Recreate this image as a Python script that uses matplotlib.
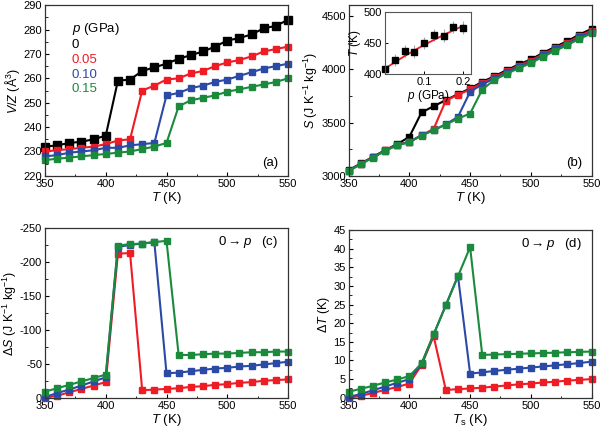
import numpy as np
import matplotlib.pyplot as plt
from matplotlib.ticker import AutoMinorLocator

plt.rcParams['font.family'] = ['Liberation Sans', 'DejaVu Sans']
plt.rcParams['mathtext.fontset'] = 'custom'
plt.rcParams['mathtext.rm'] = 'Liberation Sans'
plt.rcParams['mathtext.it'] = 'Liberation Sans:italic'
plt.rcParams['axes.unicode_minus'] = False
plt.rcParams['xtick.direction'] = 'in'
plt.rcParams['ytick.direction'] = 'in'

T = np.arange(350, 551, 10)
pressures = ['0', '0.05', '0.10', '0.15']
colors = ['black', '#ee1c25', '#2b4aa6', '#1b8a3c']

# (a) V/Z
vz_0 = [232, 232.5, 233.5, 234, 235, 236.5, 259, 259.5, 263, 264.5, 266, 268, 269.5, 271, 273, 275.5, 276.5, 278, 280.5, 281.5, 284]
vz_005 = [230, 230.5, 231, 231.5, 232, 233, 234.5, 235, 255, 257, 259.5, 260, 262, 263, 265, 266.5, 267.5, 269, 271, 272, 273]
vz_010 = [228, 228.5, 229.5, 230, 230.5, 231.5, 231.5, 232.5, 233, 233.5, 253, 254, 256, 257, 258.5, 259.5, 261, 262.5, 264, 265, 266]
vz_015 = [226.5, 227, 227.5, 228, 228.5, 229, 229.5, 230, 231, 232, 233.5, 248.5, 251, 252, 253, 254.5, 255.5, 256.5, 257.5, 258.5, 260]

# (b) S
s_0 = [3053, 3116, 3178, 3241, 3297, 3366, 3594, 3653, 3710, 3766, 3819, 3881, 3934, 3991, 4044, 4091, 4153, 4209, 4263, 4325, 4378]
s_005 = [3050, 3113, 3175, 3238, 3293, 3319, 3381, 3440, 3705, 3760, 3810, 3870, 3924, 3980, 4033, 4080, 4141, 4196, 4250, 4311, 4362]
s_010 = [3048, 3111, 3173, 3236, 3290, 3317, 3380, 3430, 3483, 3553, 3788, 3858, 3913, 3969, 4022, 4069, 4130, 4185, 4238, 4299, 4349]
s_015 = [3046, 3109, 3171, 3234, 3287, 3315, 3378, 3428, 3481, 3537, 3584, 3809, 3900, 3956, 4009, 4056, 4117, 4172, 4225, 4285, 4335]

# inset: transition temperature vs pressure
p_in = [0.0, 0.025, 0.05, 0.075, 0.1, 0.125, 0.15, 0.175, 0.2]
Tt_in = [408, 423, 437, 436, 450, 463, 462, 476, 475]
Tt_err = [8, 10, 10, 10, 10, 10, 10, 10, 10]
fit_p = [0.0, 0.05, 0.1, 0.15, 0.2]
fit_T = [409, 429, 447, 463, 478]

# (c) Delta S
ds_005 = [0, -3, -8, -13, -18, -23, -212, -213, -11, -12, -13, -14, -16, -17, -19, -20, -22, -23, -25, -26, -27]
ds_010 = [-1, -7, -12, -18, -24, -30, -222, -225, -227, -229, -36, -37, -39, -41, -43, -44, -46, -47, -49, -51, -53]
ds_015 = [-9, -14, -19, -24, -29, -34, -224, -226, -227, -229, -231, -63, -63, -64, -65, -65, -66, -67, -67, -68, -68]

# (d) Delta T
dt_005 = [0, 0.5, 1.3, 2.1, 2.9, 3.8, 8.8, 16.5, 2.1, 2.3, 2.5, 2.7, 3.0, 3.3, 3.6, 3.8, 4.1, 4.3, 4.6, 4.8, 5.0]
dt_010 = [0.2, 1.0, 2.0, 3.0, 4.0, 5.0, 9.0, 17, 24.8, 32.7, 6.5, 6.8, 7.2, 7.5, 7.8, 8.1, 8.4, 8.7, 9.0, 9.3, 9.7]
dt_015 = [1.6, 2.4, 3.2, 4.1, 4.9, 5.8, 9.2, 17, 24.8, 32.6, 40.4, 11.5, 11.6, 11.7, 11.8, 11.9, 12.0, 12.1, 12.2, 12.3, 12.4]

fig = plt.figure(figsize=(6, 4.3), dpi=100)
axa = fig.add_axes([0.075, 0.591, 0.405, 0.397])
axb = fig.add_axes([0.581, 0.591, 0.405, 0.397])
axc = fig.add_axes([0.075, 0.075, 0.405, 0.395])
axd = fig.add_axes([0.581, 0.075, 0.405, 0.39])


def style(ax):
    ax.tick_params(labelsize=8, length=3, width=0.8, pad=2)
    ax.tick_params(which='minor', length=1.8, width=0.6)
    ax.xaxis.set_minor_locator(AutoMinorLocator(2))
    ax.yaxis.set_minor_locator(AutoMinorLocator(2))
    for s in ax.spines.values():
        s.set_linewidth(0.9)
        s.set_color('#333333')
    ax.set_xlim(350, 550)
    ax.set_xticks([350, 400, 450, 500, 550])


# (a)
for y, c, ms in zip([vz_0, vz_005, vz_010, vz_015], colors, [6, 4, 4, 4]):
    axa.plot(T, y, '-s', color=c, ms=ms, lw=1.5, clip_on=False)
style(axa)
axa.set_ylim(220, 290)
axa.set_xlabel(r'$T$ (K)', fontsize=9.5, labelpad=1)
axa.set_ylabel(r'$V/Z$ (Å$^3$)', fontsize=9, labelpad=1)
axa.text(0.11, 0.84, r'$p$ (GPa)', transform=axa.transAxes, fontsize=9.5)
for i, (lab, c) in enumerate(zip(pressures, colors)):
    axa.text(0.11, 0.75 - i * 0.087, lab, color=c, transform=axa.transAxes, fontsize=9.5)
axa.text(0.96, 0.06, '(a)', transform=axa.transAxes, ha='right', fontsize=9.5)

# (b)
for y, c in zip([s_0, s_005, s_010, s_015], colors):
    axb.plot(T, y, '-s', color=c, ms=5, lw=1.5, clip_on=False)
style(axb)
axb.set_ylim(3000, 4600)
axb.set_yticks([3000, 3500, 4000, 4500])
axb.set_xlabel(r'$T$ (K)', fontsize=9.5, labelpad=1)
axb.set_ylabel(r'$S$ (J K$^{-1}$ kg$^{-1}$)', fontsize=9, labelpad=1)
axb.text(0.96, 0.06, '(b)', transform=axb.transAxes, ha='right', fontsize=9.5)

ins = fig.add_axes([0.642, 0.828, 0.143, 0.144])
ins.errorbar(p_in, Tt_in, yerr=Tt_err, fmt='s', color='black', ms=4.5,
             ecolor='#aaaaaa', elinewidth=0.8, clip_on=False)
ins.plot(fit_p, fit_T, color='#ee1c25', lw=1.3)
ins.set_xlim(0, 0.22)
ins.set_ylim(400, 500)
ins.set_xticks([0.1, 0.2])
ins.set_yticks([400, 450, 500])
ins.tick_params(labelsize=8, length=2.5, width=0.7, pad=2)
for s in ins.spines.values():
    s.set_linewidth(0.8)
    s.set_color('#555555')
ins.set_xlabel(r'$p$ (GPa)', fontsize=8.5, labelpad=1)
ins.set_ylabel(r'$T$ (K)', fontsize=8.5, labelpad=1)

# (c)
for y, c in zip([ds_005, ds_010, ds_015], colors[1:]):
    axc.plot(T, y, '-s', color=c, ms=5, lw=1.5, clip_on=False)
style(axc)
axc.set_ylim(0, -250)
axc.set_yticks([0, -50, -100, -150, -200, -250])
axc.set_xlabel(r'$T$ (K)', fontsize=9.5, labelpad=1)
axc.set_ylabel(r'$\Delta S$ (J K$^{-1}$ kg$^{-1}$)', fontsize=9, labelpad=1)
axc.text(0.96, 0.9, r'0$\rightarrow$$p$   (c)', transform=axc.transAxes, ha='right', fontsize=9.5)

# (d)
for y, c in zip([dt_005, dt_010, dt_015], colors[1:]):
    axd.plot(T, y, '-s', color=c, ms=5, lw=1.5, clip_on=False)
style(axd)
axd.set_ylim(0, 45)
axd.set_yticks(np.arange(0, 46, 5))
axd.set_xlabel(r'$T_{\rm s}$ (K)', fontsize=9.5, labelpad=1)
axd.set_ylabel(r'$\Delta T$ (K)', fontsize=9, labelpad=1)
axd.text(0.96, 0.9, r'0$\rightarrow$$p$   (d)', transform=axd.transAxes, ha='right', fontsize=9.5)

fig.savefig('out.png', dpi=100)
